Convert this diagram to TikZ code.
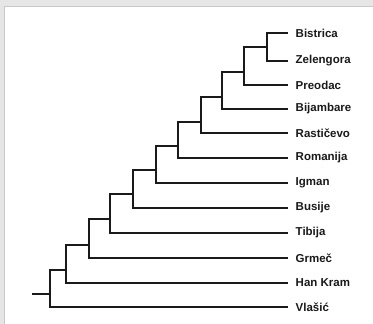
\documentclass[tikz,border=0pt]{standalone}
\usepackage{fontspec}
\setmainfont{Liberation Sans}
\usetikzlibrary{positioning}
\definecolor{branch}{HTML}{1A1A1A}
\definecolor{frameband}{HTML}{E6E6E6}
\definecolor{frameline}{HTML}{C8C8C8}
\begin{document}
\begin{tikzpicture}[
    x=1pt, y=-1pt,
    font=\fontsize{11.5}{13}\selectfont\bfseries,
    leaf/.style={anchor=west, inner xsep=8.5pt, inner ysep=0pt, text=branch},
    branchline/.style={draw=branch, line width=2.2pt, line cap=rect}
  ]
    % panel
    \useasboundingbox (0,0) rectangle (373,324);
    \fill[frameband] (0,0) rectangle (373,324);
    \filldraw[fill=white, draw=frameline, line width=0.8pt] (4,6) rectangle (374,325);
    % leaves
    \node[leaf] (bis) at (287,33) {Bistrica};
    \node[leaf] (zel) at (287,61) {Zelengora};
    \node[leaf] (pre) at (287,85) {Preodac};
    \node[leaf] (bij) at (287,109) {Bijambare};
    \node[leaf] (ras) at (287,133) {Rastičevo};
    \node[leaf] (rom) at (287,158) {Romanija};
    \node[leaf] (igm) at (287,183) {Igman};
    \node[leaf] (bus) at (287,208) {Busije};
    \node[leaf] (tib) at (287,233) {Tibija};
    \node[leaf] (grm) at (287,258) {Grmeč};
    \node[leaf] (han) at (287,283) {Han Kram};
    \node[leaf] (vla) at (287,307) {Vlašić};
    % internal nodes
    \coordinate (nA) at (267,47);
    \coordinate (nB) at (244,72);
    \coordinate (nC) at (222,97);
    \coordinate (nD) at (201,122);
    \coordinate (nE) at (178,146);
    \coordinate (nF) at (156,170);
    \coordinate (nG) at (133,194);
    \coordinate (nH) at (110,219);
    \coordinate (nI) at (89,245);
    \coordinate (nJ) at (66,270);
    \coordinate (nK) at (50,294);
    \coordinate (root) at (33,294);
    % branches
    \draw[branchline] (nA) |- (bis.west);
    \draw[branchline] (nA) |- (zel.west);
    \draw[branchline] (nB) |- (nA);
    \draw[branchline] (nB) |- (pre.west);
    \draw[branchline] (nC) |- (nB);
    \draw[branchline] (nC) |- (bij.west);
    \draw[branchline] (nD) |- (nC);
    \draw[branchline] (nD) |- (ras.west);
    \draw[branchline] (nE) |- (nD);
    \draw[branchline] (nE) |- (rom.west);
    \draw[branchline] (nF) |- (nE);
    \draw[branchline] (nF) |- (igm.west);
    \draw[branchline] (nG) |- (nF);
    \draw[branchline] (nG) |- (bus.west);
    \draw[branchline] (nH) |- (nG);
    \draw[branchline] (nH) |- (tib.west);
    \draw[branchline] (nI) |- (nH);
    \draw[branchline] (nI) |- (grm.west);
    \draw[branchline] (nJ) |- (nI);
    \draw[branchline] (nJ) |- (han.west);
    \draw[branchline] (nK) |- (nJ);
    \draw[branchline] (nK) |- (vla.west);
    \draw[branchline] (root) -- (nK);
  \end{tikzpicture}
\end{document}
